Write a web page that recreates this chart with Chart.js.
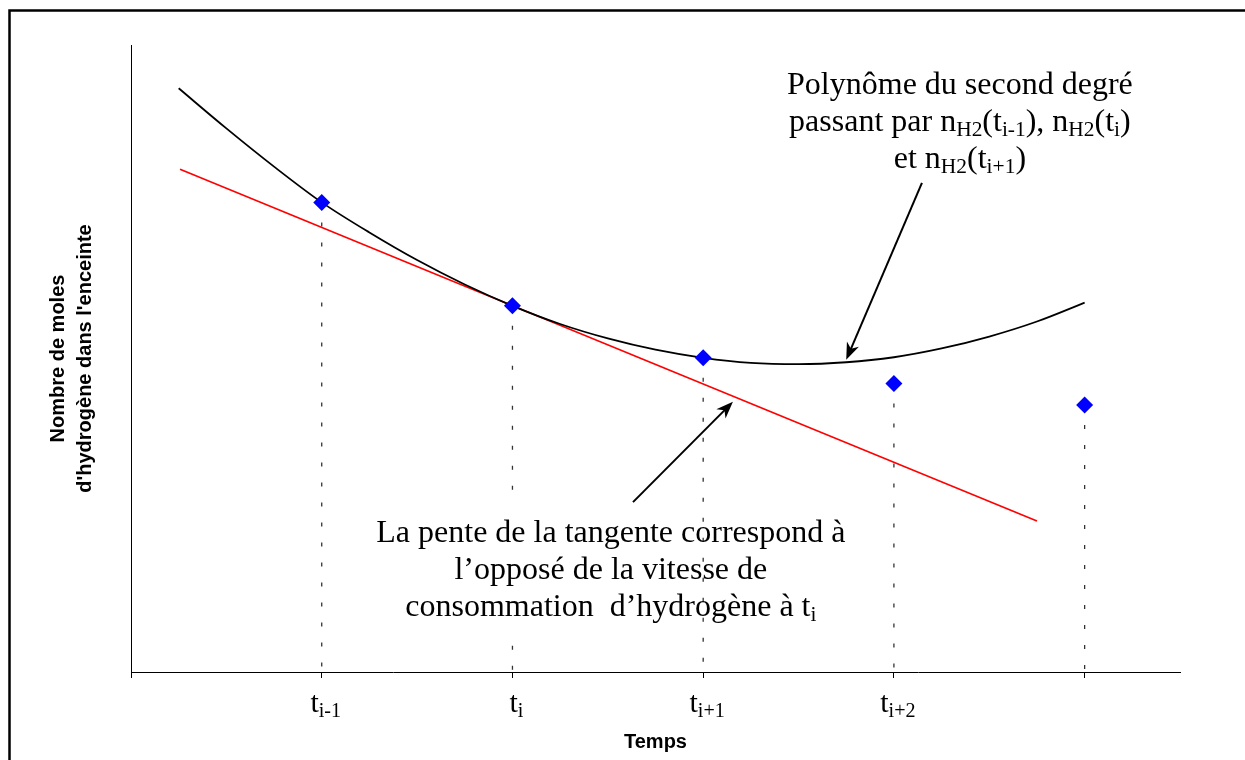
<!DOCTYPE html>
<html>
<head>
<meta charset="utf-8">
<script src="https://cdn.jsdelivr.net/npm/chart.js@4"></script>
<style>
  html, body { margin: 0; padding: 0; background: #fff; overflow: hidden; }
  canvas { display: block; }
</style>
</head>
<body>
<canvas id="myChart" width="1245" height="760"></canvas>
<script>
// values (time in steps, moles in arbitrary units 0..10)
const pointTimes = [1, 2, 3, 4, 5];
const pointMoles = [7.49, 5.84, 5.01, 4.60, 4.26];

const curveTimes = [0.25, 0.5, 0.75, 1, 1.25, 1.5, 1.75, 2, 2.25, 2.5, 2.75, 3, 3.25, 3.5, 3.75, 4, 4.25, 4.5, 4.75, 5];
const curveMoles = [9.31, 8.67, 8.06, 7.49, 7.01, 6.57, 6.18, 5.84, 5.55, 5.32, 5.14, 5.01, 4.93, 4.91, 4.94, 5.02, 5.16, 5.35, 5.59, 5.89];

const tangentTimes = [0.257, 4.75];
const tangentMoles = [8.02, 2.41];

const tickValues = [1, 2, 3, 4];
const tickLabels = ['t_{i-1}', 't_{i}', 't_{i+1}', 't_{i+2}'];

const xTitle = 'Temps';
const yTitle = ['Nombre de moles', "d'hydrogène dans l'enceinte"];

const noteTop = ['Polynôme du second degré', 'passant par n_{H2}(t_{i-1}), n_{H2}(t_{i})', 'et n_{H2}(t_{i+1})'];
const noteBottom = ['La pente de la tangente correspond à', 'l’opposé de la vitesse de', 'consommation  d’hydrogène à t_{i}'];

// anchors of the annotations, in chart units
const noteTopAt = { x: 4.346, y: 9.22 };
const noteBottomAt = { x: 2.516, y: 2.07 };
const arrowTop = { x1: 4.147, y1: 7.80, x2: 3.75, y2: 4.98 };
const arrowBottom = { x1: 2.632, y1: 2.71, x2: 3.156, y2: 4.31 };

const toXY = (xs, ys) => xs.map((x, i) => ({ x: x, y: ys[i] }));

// dotted drop lines, one segment per point, broken by nulls
const dropData = [];
pointTimes.forEach((t, i) => {
    dropData.push({ x: t, y: pointMoles[i] }, { x: t, y: 0 }, { x: t, y: null });
});

const SERIF = '"Liberation Serif", "Times New Roman", serif';

// text with _{...} subscripts
function parseRich(str) {
    const parts = [];
    const re = /_\{([^}]*)\}/g;
    let last = 0, m;
    while ((m = re.exec(str)) !== null) {
        if (m.index > last) parts.push({ t: str.slice(last, m.index), sub: false });
        parts.push({ t: m[1], sub: true });
        last = re.lastIndex;
    }
    if (last < str.length) parts.push({ t: str.slice(last), sub: false });
    return parts;
}

function drawRich(ctx, str, cx, baseline, size) {
    const parts = parseRich(str);
    let w = 0;
    parts.forEach(p => {
        ctx.font = (p.sub ? size * 0.67 : size) + 'px ' + SERIF;
        p.w = ctx.measureText(p.t).width;
        w += p.w;
    });
    let x = cx - w / 2;
    ctx.textAlign = 'left';
    ctx.textBaseline = 'alphabetic';
    parts.forEach(p => {
        ctx.font = (p.sub ? size * 0.67 : size) + 'px ' + SERIF;
        ctx.fillText(p.t, x, baseline + (p.sub ? size * 0.15 : 0));
        x += p.w;
    });
}

function drawArrow(ctx, x1, y1, x2, y2) {
    const a = Math.atan2(y2 - y1, x2 - x1);
    ctx.beginPath();
    ctx.moveTo(x1, y1);
    ctx.lineTo(x2 - 10 * Math.cos(a), y2 - 10 * Math.sin(a));
    ctx.stroke();
    ctx.save();
    ctx.translate(x2, y2);
    ctx.rotate(a);
    ctx.beginPath();
    ctx.moveTo(0, 0);
    ctx.lineTo(-17, -6.5);
    ctx.lineTo(-12, 0);
    ctx.lineTo(-17, 6.5);
    ctx.closePath();
    ctx.fill();
    ctx.restore();
}

const notesPlugin = {
    id: 'notes',
    afterDatasetsDraw(chart) {
        const ctx = chart.ctx;
        const xs = chart.scales.x, ys = chart.scales.y;
        ctx.save();

        // lower text box hides the dotted lines behind it
        const bx = xs.getPixelForValue(noteBottomAt.x);
        const by = ys.getPixelForValue(noteBottomAt.y);
        ctx.fillStyle = '#fff';
        ctx.fillRect(bx - 246, by - 39, 334, 134);

        ctx.fillStyle = '#000';
        noteBottom.forEach((line, i) => drawRich(ctx, line, bx, by + i * 37, 32));

        const tx = xs.getPixelForValue(noteTopAt.x);
        const ty = ys.getPixelForValue(noteTopAt.y);
        noteTop.forEach((line, i) => drawRich(ctx, line, tx, ty + i * 37, 32));

        ctx.strokeStyle = '#000';
        ctx.lineWidth = 2;
        [arrowTop, arrowBottom].forEach(a => drawArrow(ctx,
            xs.getPixelForValue(a.x1), ys.getPixelForValue(a.y1),
            xs.getPixelForValue(a.x2), ys.getPixelForValue(a.y2)));
        ctx.restore();
    },
    afterDraw(chart) {
        const ctx = chart.ctx;
        const xs = chart.scales.x;
        ctx.save();
        ctx.fillStyle = '#000';
        tickValues.forEach((v, i) => {
            drawRich(ctx, tickLabels[i], xs.getPixelForValue(v) + 4, 712, 30);
        });
        // outer frame
        ctx.strokeStyle = '#000';
        ctx.lineWidth = 2.5;
        ctx.strokeRect(9.5, 10.5, 1300, 800);
        ctx.restore();
    }
};

const canvas = document.getElementById('myChart');
new Chart(canvas, {
    type: 'scatter',
    data: {
        datasets: [
            {
                data: dropData,
                showLine: true,
                spanGaps: false,
                borderColor: '#333',
                borderWidth: 1.3,
                borderDash: [4, 16],
                pointRadius: 0,
                order: 4
            },
            {
                data: toXY(tangentTimes, tangentMoles),
                showLine: true,
                borderColor: '#ff0000',
                borderWidth: 1.6,
                pointRadius: 0,
                order: 3
            },
            {
                data: toXY(curveTimes, curveMoles),
                showLine: true,
                borderColor: '#000',
                borderWidth: 1.8,
                cubicInterpolationMode: 'monotone',
                pointRadius: 0,
                order: 2
            },
            {
                data: toXY(pointTimes, pointMoles),
                pointStyle: 'rectRot',
                pointRadius: 8.5,
                backgroundColor: '#0000ff',
                borderColor: '#0000ff',
                borderWidth: 0,
                order: 1
            }
        ]
    },
    options: {
        responsive: false,
        animation: false,
        devicePixelRatio: 1,
        layout: { padding: { left: 10, top: 45, right: 65, bottom: 2 } },
        plugins: {
            legend: { display: false },
            tooltip: { enabled: false }
        },
        scales: {
            x: {
                type: 'linear',
                min: 0,
                max: 5.5,
                ticks: { display: false, stepSize: 1, includeBounds: false },
                grid: { drawOnChartArea: false, drawTicks: true, tickLength: 6, color: '#000' },
                border: { color: '#000', width: 1 },
                title: {
                    display: true,
                    text: xTitle,
                    color: '#000',
                    font: { family: '"Liberation Sans", Arial, sans-serif', size: 20, weight: 'bold', lineHeight: 1.2 },
                    padding: { top: 52, bottom: 4 }
                }
            },
            y: {
                min: 0,
                max: 10,
                ticks: { display: false },
                grid: { display: false, drawTicks: false },
                border: { color: '#000', width: 1 },
                title: {
                    display: true,
                    text: yTitle,
                    color: '#000',
                    font: { family: '"Liberation Sans", Arial, sans-serif', size: 20, weight: 'bold', lineHeight: 1.35 },
                    padding: { top: 34.5, bottom: 32.5 }
                }
            }
        }
    },
    plugins: [notesPlugin]
});
</script>
</body>
</html>
